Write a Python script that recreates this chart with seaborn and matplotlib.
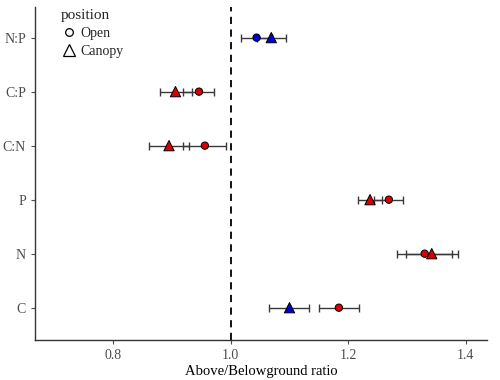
import pandas as pd
import seaborn as sns
import matplotlib.pyplot as plt
from matplotlib.lines import Line2D

# Data
categories = ["C", "N", "P", "C:N", "C:P", "N:P"]   # bottom -> top
open_mean  = [1.184, 1.330, 1.269, 0.956, 0.946, 1.044]
open_lo    = [1.151, 1.283, 1.244, 0.918, 0.918, 1.017]
open_hi    = [1.219, 1.376, 1.293, 0.992, 0.972, 1.071]
canopy_mean = [1.100, 1.342, 1.237, 0.895, 0.906, 1.069]
canopy_lo   = [1.065, 1.298, 1.217, 0.861, 0.879, 1.044]
canopy_hi   = [1.134, 1.386, 1.258, 0.929, 0.934, 1.094]
open_sig   = ["red", "red", "red", "red", "red", "blue"]
canopy_sig = ["blue", "red", "red", "red", "red", "blue"]

df = pd.concat([
    pd.DataFrame({"element": categories, "ratio": open_mean, "lo": open_lo, "hi": open_hi,
                  "position": "Open", "sig": open_sig}),
    pd.DataFrame({"element": categories, "ratio": canopy_mean, "lo": canopy_lo, "hi": canopy_hi,
                  "position": "Canopy", "sig": canopy_sig}),
], ignore_index=True)
df["ypos"] = df.element.map({c: i for i, c in enumerate(categories)})

sns.set_style("ticks")
plt.rcParams["font.family"] = ["Liberation Serif", "DejaVu Serif"]

fig = plt.figure(figsize=(5, 3.8), dpi=100)
ax = fig.add_axes([0.07, 0.105, 0.904, 0.877])

ax.axvline(1.0, color="black", ls=(0, (4, 3)), lw=1.3, zorder=1)

# error bars
for _, r in df.iterrows():
    ax.errorbar(r.ratio, r.ypos, xerr=[[r.ratio - r.lo], [r.hi - r.ratio]], fmt="none",
                ecolor="#3a3a3a", elinewidth=1.0, capsize=3, capthick=1.0, zorder=2)

palette = {"red": "#D80000", "blue": "#0000D0"}
sns.scatterplot(data=df[df.position == "Canopy"], x="ratio", y="ypos", hue="sig", palette=palette,
                marker="^", s=55, edgecolor="black", linewidth=0.7, legend=False, ax=ax, zorder=3)
sns.scatterplot(data=df[df.position == "Open"], x="ratio", y="ypos", hue="sig", palette=palette,
                marker="o", s=28, edgecolor="black", linewidth=0.7, legend=False, ax=ax, zorder=4)

ax.set_xlim(0.667, 1.436)
ax.set_ylim(-0.6, 5.57)
ax.set_xticks([0.8, 1.0, 1.2, 1.4])
ax.set_xticklabels(["0.8", "1.0", "1.2", "1.4"])
ax.set_yticks(range(len(categories)))
ax.set_yticklabels(categories)
ax.set_xlabel("Above/Belowground ratio", fontsize=10.5, color="black", labelpad=2)
ax.set_ylabel("")
ax.tick_params(colors="#4d4d4d", labelsize=10, length=3, width=0.8)
for s in ["top", "right"]:
    ax.spines[s].set_visible(False)
for s in ["left", "bottom"]:
    ax.spines[s].set_color("#333333")
    ax.spines[s].set_linewidth(1.0)

handles = [Line2D([], [], marker="o", ls="none", mfc="none", mec="black", ms=5.5, mew=0.9, label="Open"),
           Line2D([], [], marker="^", ls="none", mfc="none", mec="black", ms=8, mew=0.9, label="Canopy")]
leg = ax.legend(handles=handles, title="position", loc="upper left", bbox_to_anchor=(0.03, 1.03),
                frameon=False, fontsize=10, title_fontsize=11, handletextpad=0.2, labelspacing=0.35,
                handlelength=1.2)
leg._legend_box.align = "left"

fig.savefig("out.png", dpi=100)
